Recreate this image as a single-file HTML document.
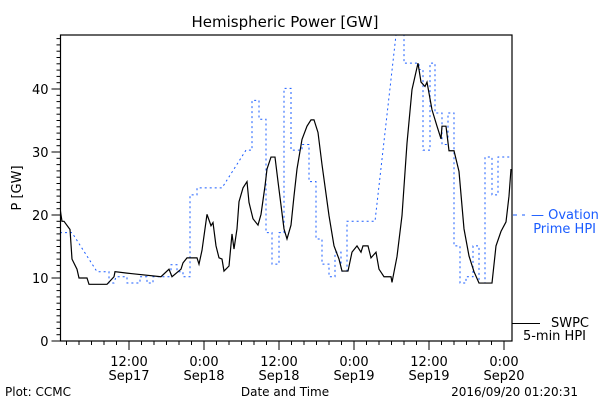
<!DOCTYPE html>
<html><head><meta charset="utf-8"><style>
html,body{margin:0;padding:0;background:#fff;}
svg{display:block;font-family:"DejaVu Sans","Liberation Sans",sans-serif;}
</style></head><body>
<svg id="chart" width="600" height="400" viewBox="0 0 600 400" xmlns="http://www.w3.org/2000/svg">
<defs><clipPath id="plotclip"><rect x="60.5" y="35" width="451.5" height="306"/></clipPath></defs>
<rect width="600" height="400" fill="#fff"/>
<text x="285" y="27" font-size="15" text-anchor="middle">Hemispheric Power [GW]</text>
<g id="axes"></g>
<g id="series" clip-path="url(#plotclip)"></g>
<rect x="60.5" y="35" width="451.5" height="306" fill="none" stroke="#000" stroke-width="1.2"/>
<text x="21" y="188" font-size="13" text-anchor="middle" transform="rotate(-90 21 188)">P [GW]</text>
<text x="285" y="396" font-size="12" text-anchor="middle">Date and Time</text>
<text x="5" y="396" font-size="12">Plot: CCMC</text>
<text x="578" y="396" font-size="12" text-anchor="end">2016/09/20 01:20:31</text>
<g>
<line x1="513" y1="215" x2="525" y2="215" stroke="#1a5cff" stroke-width="1" stroke-dasharray="4,5"/>
<text x="531" y="219" font-size="13" fill="#1a5cff">— Ovation</text>
<text x="596" y="233" font-size="13" fill="#1a5cff" text-anchor="end">Prime HPI</text>
</g>
<g>
<line x1="512" y1="323.5" x2="540" y2="323.5" stroke="#000" stroke-width="1"/>
<text x="589" y="327" font-size="13" text-anchor="end">SWPC</text>
<text x="586" y="340" font-size="13" text-anchor="end">5-min HPI</text>
</g>
</svg>
<script>
const yTicks = [0, 10, 20, 30, 40];
const xTickHours = [12, 24, 36, 48, 60, 72];
const xTickTime = ["12:00", "0:00", "12:00", "0:00", "12:00", "0:00"];
const xTickDate = ["Sep17", "Sep18", "Sep18", "Sep19", "Sep19", "Sep20"];
// SWPC 5-min HPI (hours since Sep17 00:00, GW)
const swpcT = [0.96,1.28,1.6,2.56,2.88,3.68,4.0,5.28,5.6,8.48,9.6,9.76,12.32,17.12,18.4,18.88,20.32,20.64,21.28,22.88,23.2,23.68,24.48,25.12,25.44,25.92,26.4,26.88,27.2,28,28.48,28.8,29.28,29.6,30.24,30.88,31.2,31.84,32.64,33.12,33.76,34.08,34.72,35.36,35.84,36.8,37.28,37.92,38.4,38.88,39.68,40.48,41.12,41.6,42.24,42.88,44,44.8,45.6,46.08,47.04,47.68,48.48,49.12,49.44,50.24,50.72,51.52,52,52.8,53.92,54.08,54.88,55.68,56.48,57.28,58.24,58.72,59.36,59.68,60.48,61.28,61.92,62.08,62.72,63.2,64,64.8,65.6,66.4,67.2,68,70.08,70.72,71.52,72.32,72.8,73.12];
const swpcV = [21.1,19,19,17.7,13,11.4,10,10,9,9,10.2,11,10.7,10.2,11.4,10.2,11.4,12.4,13.2,13.2,12.2,14.4,20.1,18.3,18.8,15.1,13.2,13,11.1,11.9,17,14.6,17.8,22.1,24.3,25.3,22,19.4,18.4,20.1,24.6,27.3,29.2,29.2,25.3,17.8,16.2,18.4,23,27.3,32,34.1,35.1,35.1,33.1,28,19.9,15.1,13,11.1,11.1,14.1,15.1,14.1,15.1,15.1,13.2,14.1,11.4,10.2,10.2,9.3,13.4,19.9,31.4,39.9,44.1,41.1,40.4,41.1,36.7,34.1,32.1,34.1,34.1,30.2,30.2,26.9,17.8,13.5,11,9.2,9.2,15.1,17.4,18.9,23,27.3];
// Ovation Prime HPI step segments
const ovStart = [0.96,6.88,8.8,9.92,11.68,13.76,14.88,15.84,18.72,19.68,20.64,21.76,22.88,30.72,31.68,32.8,33.92,34.88,36,36.8,37.92,39.68,40.8,41.92,42.88,44,44.96,45.92,46.88,54.88,56,58.4,59.04,60.16,60.96,62.08,63.04,64,64.96,65.92,67.04,68,68.96,70.08,71.04];
const ovEnd   = [2.88,8.8,9.6,11.68,13.76,14.88,15.84,18.72,19.68,20.64,21.76,22.88,26.88,31.68,32.8,33.92,34.88,36,36.8,37.92,39.68,40.8,41.92,42.88,44,44.96,45.92,46.88,51.36,56,58.4,59.04,60.16,60.96,62.08,63.04,64,64.96,65.92,67.04,68,68.96,70.08,71.04,73.12];
const ovV     = [17.2,11,9.2,10.2,9.2,10.2,9.2,10.2,12.1,11,10.2,23.2,24.3,30.3,38.2,35.2,17.2,12.2,17.2,40.1,30.3,31.2,25.3,16.2,12.2,10.2,14.1,11.1,19,50,44.1,43.1,30.3,44.1,36.2,31.2,36.2,15.1,9.2,10.2,15.1,9.2,29.2,23.2,29.2];

const NS = "http://www.w3.org/2000/svg";
const X0 = 60.5, X1 = 512, Y0 = 341, Y1 = 35;
function xs(h){ return 129 + (h - 12) * 6.25; }
function ys(v){ return 341 - v * 6.3; }
function mk(tag, attrs, parent){ const e = document.createElementNS(NS, tag); for (const k in attrs) e.setAttribute(k, attrs[k]); parent.appendChild(e); return e; }
const axes = document.getElementById('axes');
const series = document.getElementById('series');
// y ticks
for (let v = 0; v <= 48; v++) {
  const y = ys(v); const major = v % 10 === 0;
  const t = mk('line', {x1: X0 - (major ? 9 : 4), x2: X0, y1: y, y2: y, stroke: '#000', 'stroke-width': 1}, axes);
  
  
}
yTicks.forEach(v => {
  const t = mk('text', {x: X0 - 12, y: ys(v) + 5, 'font-size': 13, 'text-anchor': 'end'}, axes);
  t.textContent = v;
  
  
});
// x ticks every 2h
for (let h = 2; h <= 72; h += 2) {
  const x = xs(h); if (x < X0 || x > X1) continue; const major = h % 12 === 0;
  const t = mk('line', {x1: x, x2: x, y1: Y0, y2: Y0 + (major ? 9 : 4), stroke: '#000', 'stroke-width': 1}, axes);
  
  
}
xTickHours.forEach((h, i) => {
  const a = mk('text', {x: xs(h), y: 366, 'font-size': 13, 'text-anchor': 'middle'}, axes);
  a.textContent = xTickTime[i];
  
  
  const b = mk('text', {x: xs(h), y: 380, 'font-size': 13, 'text-anchor': 'middle'}, axes);
  b.textContent = xTickDate[i];
  
  
});
// Ovation series
let op = [];
for (let i = 0; i < ovV.length; i++) { op.push(xs(ovStart[i]) + ',' + ys(ovV[i])); op.push(xs(ovEnd[i]) + ',' + ys(ovV[i])); }
const ov = mk('polyline', {points: op.join(' '), fill: 'none', stroke: '#1a5cff', 'stroke-width': 1, 'stroke-dasharray': '2,3'}, series);


// SWPC series
const sp = swpcT.map((t, i) => xs(t) + ',' + ys(swpcV[i])).join(' ');
const sw = mk('polyline', {points: sp, fill: 'none', stroke: '#000', 'stroke-width': 1.2}, series);


</script>
</body></html>
